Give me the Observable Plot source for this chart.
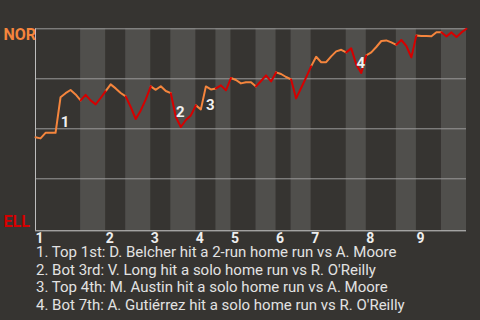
<!DOCTYPE html>
<html>
<head>
<meta charset="utf-8">
<script src="https://cdn.jsdelivr.net/npm/d3@7"></script>
<script src="https://cdn.jsdelivr.net/npm/@observablehq/plot@0.6"></script>
<style>
  html, body { margin: 0; padding: 0; background: #363431; }
  body { width: 480px; height: 320px; overflow: hidden; font-family: Roboto, sans-serif; }
  #notes { margin-left: 36px; color: #e2e2e2; font-size: 15px; line-height: 17.7px; }
  svg { display: block; }
</style>
</head>
<body>
<div id="chart"></div>
<div id="notes"></div>
<script>
// Teams
const awayTeam = "NOR";
const homeTeam = "ELL";
// Innings and the play index where each half-inning starts (top, bottom, top, ...)
const innings = ["1","2","3","4","5","6","7","8","9"];
const halfStarts = [0, 9, 14, 18, 23, 27, 32, 36, 39, 44, 48, 51, 55, 62, 66, 72, 76, 81];
const lastPlay = 86;
// NOR win probability after each play
const norWinProb = [
  0.458, 0.452, 0.480, 0.480, 0.480, 0.658, 0.678, 0.694, 0.672, 0.642,
  0.670, 0.642, 0.622, 0.654, 0.688, 0.722, 0.702, 0.679, 0.662, 0.609,
  0.549, 0.592, 0.647, 0.712, 0.695, 0.713, 0.689, 0.678, 0.559, 0.509,
  0.544, 0.567, 0.617, 0.597, 0.712, 0.697, 0.702, 0.717, 0.692, 0.754,
  0.744, 0.727, 0.733, 0.733, 0.712, 0.739, 0.767, 0.737, 0.782, 0.774,
  0.759, 0.747, 0.652, 0.704, 0.757, 0.812, 0.860, 0.833, 0.833, 0.862,
  0.887, 0.895, 0.882, 0.902, 0.822, 0.779, 0.867, 0.882, 0.909, 0.939,
  0.942, 0.932, 0.920, 0.944, 0.914, 0.857, 0.967, 0.964, 0.964, 0.963,
  0.983, 0.983, 0.962, 0.982, 0.959, 0.982, 1.000
];
// Key events: play index at which it happened, and description
const eventPlays = [5, 28, 34, 64];
const eventNotes = [
  "Top 1st: D. Belcher hit a 2-run home run vs A. Moore",
  "Bot 3rd: V. Long hit a solo home run vs R. O'Reilly",
  "Top 4th: M. Austin hit a solo home run vs A. Moore",
  "Bot 7th: A. Gutiérrez hit a solo home run vs R. O'Reilly"
];

const awayColor = "#f5853d";
const homeColor = "#d50000";
const bg = "#363431";
const band = "#504f4c";

// Build half-inning segments
const halves = halfStarts.map((s, k) => ({
  half: k, top: k % 2 === 0, x1: s,
  x2: k + 1 < halfStarts.length ? halfStarts[k + 1] : lastPlay
}));
const points = [];
for (const h of halves) {
  for (let i = h.x1; i <= h.x2; i++) points.push({i, p: norWinProb[i], half: h.half, top: h.top});
}
const events = eventPlays.map((e, k) => ({
  x: e - 0.5, y: (norWinProb[e - 1] + norWinProb[e]) / 2, label: String(k + 1)
}));
const inningLabels = innings.map((n, k) => ({x: halfStarts[2 * k], label: n}));

const chart = Plot.plot({
  width: 480,
  height: 244,
  marginTop: 28.3,
  marginBottom: 13.7,
  marginLeft: 35,
  marginRight: 14,
  style: {background: bg, fontFamily: "Roboto, sans-serif", overflow: "visible"},
  x: {domain: [0, lastPlay], axis: null},
  y: {domain: [-0.01, 1], axis: null},
  marks: [
    Plot.rect(halves.filter(h => !h.top), {x1: "x1", x2: "x2", fill: band}),
    Plot.ruleY([0.25, 0.5, 0.75, 1], {stroke: "#9a9a9a", strokeWidth: 1}),
    Plot.ruleY([-0.01], {stroke: "#cfcfcf", strokeWidth: 1}),
    Plot.ruleX([0], {y1: -0.01, y2: 1, stroke: "#bdbdbd", strokeWidth: 1}),
    Plot.line(points.filter(d => d.top), {x: "i", y: "p", z: "half", stroke: awayColor, strokeWidth: 2}),
    Plot.line(points.filter(d => !d.top), {x: "i", y: "p", z: "half", stroke: homeColor, strokeWidth: 2}),
    Plot.text(events, {x: "x", y: "y", text: "label", dx: 7, dy: 7, fill: "#f0f0f0", fontWeight: "bold", fontSize: 15}),
    Plot.text([awayTeam], {frameAnchor: "left", y: 1, text: d => d, dx: -32, textAnchor: "start", lineAnchor: "top", fill: awayColor, fontWeight: "bold", fontSize: 16}),
    Plot.text([homeTeam], {frameAnchor: "left", y: -0.01, text: d => d, dx: -32, dy: -4, textAnchor: "start", lineAnchor: "bottom", fill: homeColor, fontWeight: "bold", fontSize: 16}),
    Plot.text(inningLabels, {x: "x", frameAnchor: "bottom", text: "label", dy: 2, textAnchor: "start", lineAnchor: "top", fill: "#eeeeee", fontWeight: "bold", fontSize: 14})
  ]
});
document.getElementById("chart").appendChild(chart);
document.getElementById("notes").innerHTML = eventNotes.map((t, k) => `<div>${k + 1}. ${t}</div>`).join("");
</script>
</body>
</html>
